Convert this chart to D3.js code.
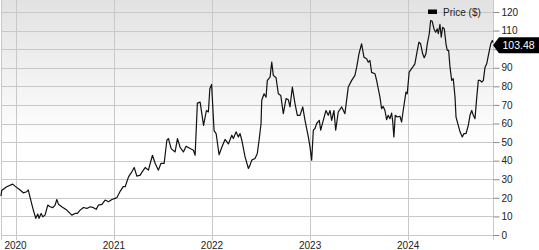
<!DOCTYPE html>
<html>
<head>
<meta charset="utf-8">
<script src="https://cdn.jsdelivr.net/npm/d3@7"></script>
<style>
  html, body { margin: 0; padding: 0; background: #fff; }
  svg { display: block; font-family: "Liberation Sans", Arial, sans-serif; }
</style>
</head>
<body>
<div id="chart"></div>
<script>
// weekly-ish closing prices, dates as decimal years
const dates = [
  2019.852, 2019.859, 2019.910, 2019.971, 2019.995, 2020.046, 2020.079, 2020.114, 2020.130, 2020.155,
  2020.181, 2020.206, 2020.226, 2020.239, 2020.260, 2020.277, 2020.300, 2020.328, 2020.351, 2020.379,
  2020.402, 2020.420, 2020.436, 2020.470, 2020.521, 2020.572, 2020.606, 2020.629, 2020.657, 2020.690,
  2020.725, 2020.759, 2020.792, 2020.820, 2020.843, 2020.878, 2020.911, 2020.945, 2020.980, 2021.013,
  2021.031, 2021.064, 2021.095, 2021.115, 2021.149, 2021.183, 2021.207, 2021.234, 2021.268, 2021.295,
  2021.319, 2021.352, 2021.393, 2021.421, 2021.454, 2021.479, 2021.512, 2021.540, 2021.556, 2021.584,
  2021.624, 2021.648, 2021.675, 2021.709, 2021.736, 2021.777, 2021.811, 2021.828, 2021.851, 2021.879,
  2021.914, 2021.943, 2021.963, 2021.978, 2021.996, 2022.021, 2022.042, 2022.072, 2022.100, 2022.133,
  2022.167, 2022.202, 2022.218, 2022.245, 2022.269, 2022.286, 2022.304, 2022.337, 2022.371, 2022.388,
  2022.405, 2022.439, 2022.462, 2022.480, 2022.500, 2022.507, 2022.531, 2022.551, 2022.564, 2022.592,
  2022.609, 2022.625, 2022.653, 2022.676, 2022.701, 2022.727, 2022.755, 2022.778, 2022.795, 2022.819,
  2022.846, 2022.870, 2022.897, 2022.925, 2022.948, 2022.982, 2022.999, 2023.016, 2023.033, 2023.050,
  2023.067, 2023.094, 2023.108, 2023.134, 2023.162, 2023.185, 2023.203, 2023.220, 2023.243, 2023.261,
  2023.287, 2023.322, 2023.355, 2023.389, 2023.424, 2023.457, 2023.475, 2023.498, 2023.525, 2023.549,
  2023.576, 2023.593, 2023.610, 2023.627, 2023.661, 2023.678, 2023.695, 2023.712, 2023.729, 2023.745,
  2023.763, 2023.780, 2023.796, 2023.814, 2023.831, 2023.841, 2023.854, 2023.868, 2023.888, 2023.916,
  2023.933, 2023.949, 2023.977, 2023.990, 2024.010, 2024.035, 2024.051, 2024.068, 2024.086, 2024.109,
  2024.126, 2024.147, 2024.163, 2024.180, 2024.194, 2024.214, 2024.228, 2024.244, 2024.262, 2024.279,
  2024.295, 2024.306, 2024.323, 2024.336, 2024.350, 2024.367, 2024.384, 2024.397, 2024.411, 2024.425,
  2024.442, 2024.458, 2024.476, 2024.486, 2024.509, 2024.527, 2024.550, 2024.567, 2024.588, 2024.611,
  2024.628, 2024.646, 2024.662, 2024.679, 2024.697, 2024.713, 2024.730, 2024.748, 2024.764, 2024.781,
  2024.798, 2024.815, 2024.839, 2024.855, 2024.862,
];
const prices = [
  21.0, 24.0, 26.0, 27.4, 26.3, 24.2, 22.7, 23.3, 24.2, 18.8,
  13.4, 9.0, 11.3, 9.0, 11.6, 9.8, 10.7, 16.1, 15.2, 14.7,
  16.1, 19.1, 16.6, 15.2, 13.4, 10.7, 11.6, 11.6, 13.4, 14.8,
  14.3, 15.2, 14.7, 13.8, 16.1, 16.5, 18.8, 17.9, 19.1, 19.7,
  20.2, 23.5, 26.0, 26.0, 31.3, 34.0, 36.3, 31.7, 32.2, 34.5,
  36.3, 34.9, 42.9, 38.5, 34.9, 38.5, 38.5, 51.0, 51.9, 46.5,
  44.7, 51.9, 47.2, 44.7, 47.8, 46.5, 45.6, 42.9, 71.0, 71.5,
  59.0, 67.0, 66.2, 78.7, 81.0, 56.2, 54.6, 43.2, 47.2, 51.4,
  49.0, 53.7, 51.9, 55.5, 52.8, 54.6, 51.0, 42.0, 35.8, 37.6,
  40.3, 41.2, 43.9, 51.0, 60.0, 72.5, 76.0, 74.2, 83.2, 85.0,
  93.0, 85.9, 84.6, 76.0, 75.1, 65.3, 73.4, 72.8, 68.9, 79.6,
  70.7, 64.4, 64.4, 68.9, 61.7, 52.8, 47.4, 40.3, 56.4, 57.3,
  60.0, 61.7, 56.4, 61.7, 67.0, 64.4, 67.0, 61.7, 67.0, 56.4,
  66.2, 68.9, 65.3, 79.6, 83.2, 85.9, 90.3, 97.5, 102.9, 95.7,
  94.8, 93.0, 93.9, 87.5, 86.8, 83.2, 78.7, 74.2, 68.0, 69.2,
  67.0, 62.1, 64.4, 62.6, 65.6, 61.7, 52.8, 64.4, 63.5, 63.9,
  60.8, 67.0, 76.9, 76.0, 87.7, 89.5, 90.7, 92.1, 97.5, 103.8,
  102.9, 97.5, 95.4, 97.5, 102.9, 108.3, 115.4, 115.0, 110.9, 109.1,
  110.9, 108.3, 113.3, 106.4, 111.8, 110.9, 102.9, 99.3, 99.3, 90.3,
  83.2, 84.1, 74.2, 63.5, 59.0, 55.5, 52.8, 54.6, 54.6, 59.0,
  64.4, 67.0, 64.4, 62.6, 74.2, 83.2, 83.2, 82.3, 83.2, 90.3,
  92.1, 96.6, 102.9, 104.7, 103.48,
];
const yTicks = [0, 10, 20, 30, 40, 50, 60, 70, 80, 90, 100, 110, 120];
const lastLabel = "103.48";
const seriesName = "Price ($)";

// decimal year -> Date
function toDate(t) {
  const y = Math.floor(t);
  const start = new Date(y, 0, 1), end = new Date(y + 1, 0, 1);
  return new Date(+start + (t - y) * (end - start));
}
const data = dates.map((t, i) => ({ date: toDate(t), price: prices[i] }));

const width = 539, height = 250;
const plot = { left: 1, right: 493, top: 0, bottom: 240 };

const x = d3.scaleTime()
  .domain(d3.extent(data, (d) => d.date))
  .range([plot.left, plot.right]);
const y = d3.scaleLinear().domain([0, 120]).range([235, 12]);

const svg = d3.select("#chart").append("svg")
  .attr("width", width).attr("height", height)
  .attr("viewBox", `0 0 ${width} ${height}`);

// background: grey at the top, fading to white
const grad = svg.append("defs").append("linearGradient")
  .attr("id", "bg").attr("x1", 0).attr("y1", 0).attr("x2", 0).attr("y2", 1);
grad.append("stop").attr("offset", "0%").attr("stop-color", "#e2e2e2");
grad.append("stop").attr("offset", "60%").attr("stop-color", "#ffffff");
svg.append("rect")
  .attr("x", plot.left).attr("y", plot.top)
  .attr("width", plot.right - plot.left).attr("height", plot.bottom - plot.top)
  .attr("fill", "url(#bg)");

const GRID = "#c8c8c8";

// horizontal grid
svg.append("g").selectAll("line").data(yTicks).join("line")
  .attr("x1", plot.left).attr("x2", plot.right)
  .attr("y1", (d) => Math.round(y(d)) + 0.5).attr("y2", (d) => Math.round(y(d)) + 0.5)
  .attr("stroke", GRID);

// vertical grid at years + frame
const years = x.ticks(d3.timeYear.every(1));
svg.append("g").selectAll("line").data(years).join("line")
  .attr("x1", (d) => Math.round(x(d)) + 0.5).attr("x2", (d) => Math.round(x(d)) + 0.5)
  .attr("y1", plot.top).attr("y2", plot.bottom)
  .attr("stroke", GRID);
svg.append("g").selectAll("line").data([plot.left, plot.right]).join("line")
  .attr("x1", (d) => d + 0.5).attr("x2", (d) => d + 0.5)
  .attr("y1", plot.top).attr("y2", plot.bottom)
  .attr("stroke", GRID);

// year labels
svg.append("g").selectAll("text").data(years).join("text")
  .attr("x", (d) => x(d)).attr("y", 249)
  .attr("text-anchor", "middle")
  .attr("font-size", 10).attr("fill", "#222")
  .text(d3.timeFormat("%Y"));

// right axis
const yAxis = svg.append("g")
  .attr("transform", `translate(${plot.right + 0.5},0)`)
  .call(d3.axisRight(y).tickValues(yTicks).tickSize(6).tickPadding(2));
yAxis.select(".domain").remove();
yAxis.selectAll(".tick line").attr("stroke", "#888");
yAxis.selectAll(".tick text")
  .attr("font-size", 10).attr("fill", "#222")
  .attr("font-family", "Liberation Sans, Arial, sans-serif");

// price line
svg.append("path")
  .datum(data)
  .attr("fill", "none")
  .attr("stroke", "#111")
  .attr("stroke-width", 1.2)
  .attr("stroke-linejoin", "round")
  .attr("d", d3.line().x((d) => x(d.date)).y((d) => y(d.price)));

// last-price flag
const ly = y(prices[prices.length - 1]) + 2.5;
svg.append("path")
  .attr("d", `M${plot.right},${ly} L${plot.right + 6},${ly - 8} L${width},${ly - 8} L${width},${ly + 8} L${plot.right + 6},${ly + 8} Z`)
  .attr("fill", "#000");
svg.append("text")
  .attr("x", plot.right + 9.5).attr("y", ly + 4)
  .attr("font-size", 10.5).attr("fill", "#fff")
  .text(lastLabel);

// legend
svg.append("rect")
  .attr("x", 428).attr("y", 9.5).attr("width", 9).attr("height", 4.5)
  .attr("fill", "#000");
svg.append("text")
  .attr("x", 443).attr("y", 15.5)
  .attr("font-size", 10).attr("fill", "#222")
  .text(seriesName);
</script>
</body>
</html>
